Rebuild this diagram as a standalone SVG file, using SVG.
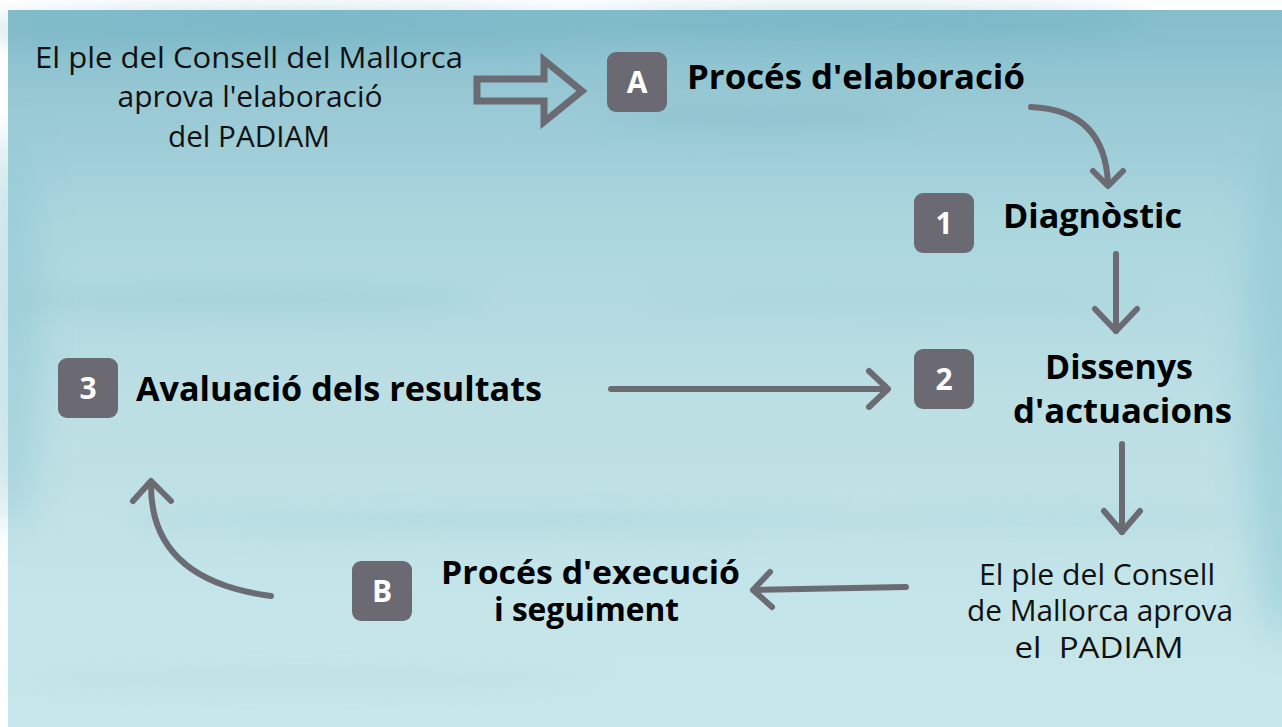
<svg xmlns="http://www.w3.org/2000/svg" width="1282" height="727" viewBox="0 0 1282 727">
  <defs>
    <linearGradient id="bg" x1="0" y1="0" x2="0" y2="1">
      <stop offset="0" stop-color="#84bdcc"/>
      <stop offset="0.12" stop-color="#97c8d4"/>
      <stop offset="0.3" stop-color="#abd6de"/>
      <stop offset="0.55" stop-color="#bcdfe4"/>
      <stop offset="0.8" stop-color="#c3e4e8"/>
      <stop offset="1" stop-color="#c8e7ea"/>
    </linearGradient>
    <filter id="blur" x="-20%" y="-50%" width="140%" height="200%">
      <feGaussianBlur stdDeviation="12"/>
    </filter>
    <filter id="blurEdge" x="-50%" y="-20%" width="200%" height="140%">
      <feGaussianBlur stdDeviation="18"/>
    </filter>
    <style>
      .box { fill: #6b6a72; }
      .boxtxt { font-family: "Open Sans", "Liberation Sans", sans-serif; font-weight: 700; font-size: 30px; fill: #ffffff; text-anchor: middle; }
      .bold { font-family: "Open Sans", "Liberation Sans", sans-serif; font-weight: 700; font-size: 34px; fill: #000000; }
      .bold2 { font-family: "Open Sans", "Liberation Sans", sans-serif; font-weight: 700; font-size: 32px; fill: #000000; }
      .reg { font-family: "Open Sans", "Liberation Sans", sans-serif; font-weight: 400; font-size: 30px; fill: #111111; text-anchor: middle; }
      .reg2 { font-family: "Open Sans", "Liberation Sans", sans-serif; font-weight: 400; font-size: 29px; fill: #111111; text-anchor: middle; white-space: pre; }
      .conn { fill: none; stroke: #6b6b74; stroke-width: 6; stroke-linecap: round; }
      .head { fill: none; stroke: #6b6b74; stroke-width: 6; stroke-linecap: round; stroke-linejoin: round; }
    </style>
  </defs>

  <rect x="0" y="0" width="1282" height="727" fill="#ffffff"/>
  <g id="background">
    <rect x="8" y="10" width="1274" height="717" fill="url(#bg)"/>
    <g filter="url(#blurEdge)" opacity="0.5">
      <ellipse cx="1285" cy="380" rx="40" ry="260" fill="#86c3d1"/>
      <ellipse cx="10" cy="330" rx="30" ry="200" fill="#8ec6d2"/>
    </g>
    <g filter="url(#blur)" opacity="0.35">
      <ellipse cx="300" cy="30" rx="320" ry="22" fill="#6aaec0"/>
      <ellipse cx="850" cy="25" rx="300" ry="18" fill="#6aaec0"/>
      <ellipse cx="760" cy="120" rx="160" ry="10" fill="#7ab7c7"/>
      <ellipse cx="250" cy="300" rx="240" ry="12" fill="#8cc2cf"/>
      <ellipse cx="900" cy="300" rx="260" ry="10" fill="#9ccbd6"/>
      <ellipse cx="500" cy="520" rx="380" ry="14" fill="#a2d0d9"/>
      <ellipse cx="1050" cy="520" rx="200" ry="10" fill="#a2d0d9"/>
      <ellipse cx="300" cy="680" rx="300" ry="12" fill="#b0d8e0"/>
    </g>
  </g>

  <g id="connectors">
    <!-- hollow block arrow -->
    <path d="M477,79 H544 V60 L582,91 L544,122 V101 H477 Z" fill="none" stroke="#6b6b74" stroke-width="7" stroke-linejoin="miter"/>
    <!-- A to 1 curved -->
    <path class="conn" d="M1031,107 Q1105,110 1108,184"/>
    <path class="head" d="M1093,171 L1108,186 L1123,171"/>
    <!-- 1 to 2 -->
    <path class="conn" d="M1116,254 V331"/>
    <path class="head" d="M1095,309 L1116,331 L1137,309"/>
    <!-- 3 to 2 -->
    <path class="conn" d="M611,389 H887"/>
    <path class="head" d="M869,371 L888,389 L869,407"/>
    <!-- 2 to approval -->
    <path class="conn" d="M1122,444 V532"/>
    <path class="head" d="M1104,511 L1122,532 L1140,511"/>
    <!-- approval to B -->
    <path class="conn" d="M906,587 L754,590"/>
    <path class="head" d="M770,572 L753,590 L772,607"/>
    <!-- B to 3 curved -->
    <path class="conn" d="M271,596 Q150,580 151,484"/>
    <path class="head" d="M133,501 L151,481 L171,501"/>
  </g>

  <g id="note-start">
    <text class="reg" x="249" y="68" textLength="428" lengthAdjust="spacingAndGlyphs">El ple del Consell del Mallorca</text>
    <text class="reg" x="250" y="107" textLength="265" lengthAdjust="spacingAndGlyphs">aprova l'elaboració</text>
    <text class="reg" x="249" y="147" textLength="162" lengthAdjust="spacingAndGlyphs">del PADIAM</text>
  </g>

  <g id="node-A">
    <rect class="box" x="607" y="52" width="60" height="60" rx="9"/>
    <text class="boxtxt" x="637" y="93">A</text>
    <text class="bold" x="687" y="89" textLength="338" lengthAdjust="spacingAndGlyphs">Procés d'elaboració</text>
  </g>

  <g id="node-1">
    <rect class="box" x="914" y="193" width="60" height="60" rx="9"/>
    <text class="boxtxt" x="944" y="234">1</text>
    <text class="bold" x="1003" y="228" textLength="179" lengthAdjust="spacingAndGlyphs">Diagnòstic</text>
  </g>

  <g id="node-2">
    <rect class="box" x="914" y="349" width="60" height="60" rx="9"/>
    <text class="boxtxt" x="944" y="390">2</text>
    <text class="bold" x="1045" y="379" textLength="148" lengthAdjust="spacingAndGlyphs">Dissenys</text>
    <text class="bold" x="1013" y="423" textLength="219" lengthAdjust="spacingAndGlyphs">d'actuacions</text>
  </g>

  <g id="node-3">
    <rect class="box" x="58" y="358" width="60" height="60" rx="9"/>
    <text class="boxtxt" x="88" y="399">3</text>
    <text class="bold" x="136" y="401" textLength="406" lengthAdjust="spacingAndGlyphs">Avaluació dels resultats</text>
  </g>

  <g id="note-approval">
    <text class="reg2" x="1097" y="585" textLength="236" lengthAdjust="spacingAndGlyphs">El ple del Consell</text>
    <text class="reg2" x="1100" y="621" textLength="266" lengthAdjust="spacingAndGlyphs">de Mallorca aprova</text>
    <text class="reg2" x="1099" y="658" textLength="169" lengthAdjust="spacingAndGlyphs">el  PADIAM</text>
  </g>

  <g id="node-B">
    <rect class="box" x="352" y="561" width="60" height="60" rx="9"/>
    <text class="boxtxt" x="382" y="602">B</text>
    <text class="bold2" x="441" y="584" textLength="299" lengthAdjust="spacingAndGlyphs">Procés d'execució</text>
    <text class="bold2" x="494" y="621" textLength="185" lengthAdjust="spacingAndGlyphs">i seguiment</text>
  </g>
</svg>
